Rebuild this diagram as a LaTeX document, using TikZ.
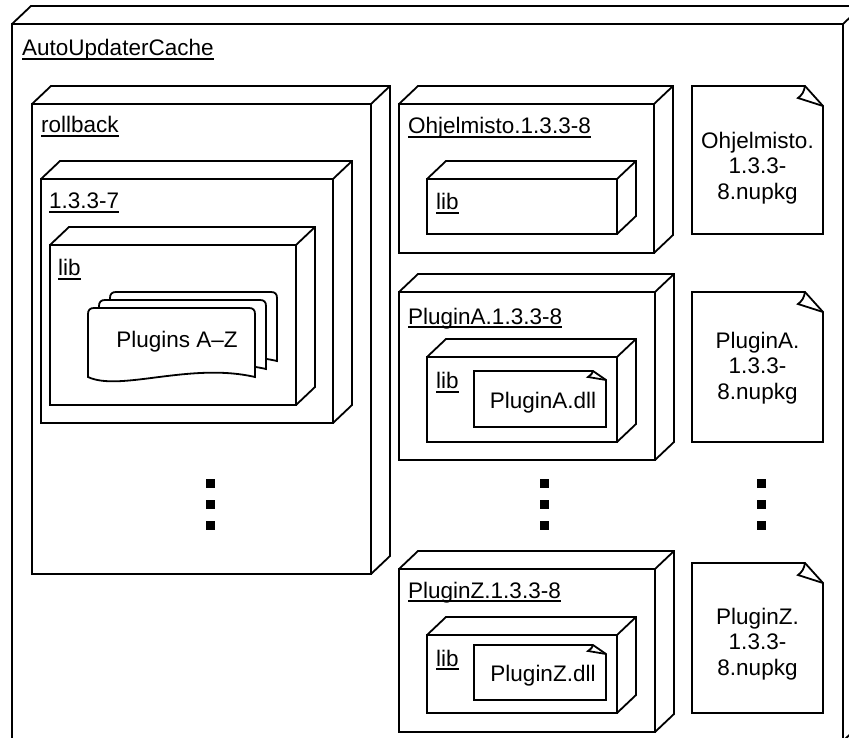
\documentclass[tikz,border=0pt]{standalone}
\usepackage{fontspec}
\setmainfont{Liberation Sans}
\usetikzlibrary{calc}
\newcommand{\ulabel}[1]{\setbox0\hbox{#1}\rlap{\vrule height -2.2pt depth 4.3pt width \wd0}\box0}
\tikzset{
  ln/.style={line width=1.8pt, line join=miter, draw=black},
  cubefront/.style={ln, draw, fill=white, rectangle, inner sep=0pt, outer sep=0pt},
  notebox/.style={rectangle, inner sep=0pt, outer sep=0pt},
  lbl/.style={anchor=base west, inner sep=0pt, font=\fontsize{22.5}{26}\selectfont},
  txt/.style={inner sep=0pt, align=center, font=\fontsize{22.5}{25.5}\selectfont},
  dotsq/.style={fill=black, draw=none, rectangle, minimum width=9pt, minimum height=9pt, inner sep=0pt}
}
% name, x1, y1, x2, y2
\newcommand{\cube}[5]{%
  \node[cubefront, minimum width={(#4-#2)*1pt}, minimum height={(#5-#3)*1pt}, anchor=north west] (#1) at (#2,#3) {};
  \draw[ln] (#1.north west) -- ++(19,-18) -- ($(#1.north east)+(19,-18)$) -- ($(#1.south east)+(19,-18)$) -- (#1.south east);
  \draw[ln] (#1.north east) -- ++(19,-18);
}
% name, x1, y1, x2, y2
\newcommand{\notenode}[5]{%
  \node[notebox, minimum width={(#4-#2)*1pt}, minimum height={(#5-#3)*1pt}, anchor=north west] (#1) at (#2,#3) {};
}
% name, fx, fy, cx, cy
\newcommand{\notefold}[5]{%
  \draw[ln, fill=white] (#1.north west) -- ($(#1.north east)+(-#2,0)$) -- ($(#1.north east)+(0,#3)$) -- (#1.south east) -- (#1.south west) -- cycle;
  \draw[ln] ($(#1.north east)+(-#2,0)$) .. controls +(-1,{0.3*#3}) and +(4,-3) .. ($(#1.north east)+(#4,#5)$) -- ($(#1.north east)+(0,#3)$);
}
\newcommand{\docshape}[2]{%
  \draw[ln, fill=white, shift={(#1,#2)}] (88,377) -- (88,314) .. controls (88,310) and (90,308) .. (94,308) -- (249,308) .. controls (253,308) and (255,310) .. (255,314) -- (255,377) .. controls (190,362) and (120,392) .. (88,377) -- cycle;
}
\begin{document}
\begin{tikzpicture}[x=1pt, y=-1pt]
\useasboundingbox (0,0) rectangle (849,738);
% outer cache box
\cube{cache}{12}{24}{843}{741}
\node[lbl] (lcache) at (22,56) {\ulabel{AutoUpdaterCache}};
% rollback
\cube{rollback}{32}{104}{371}{574}
\node[lbl] (lrollback) at (41,133) {\ulabel{rollback}};
\cube{vold}{41}{179}{333}{423}
\node[lbl] (lvold) at (49,208.5) {\ulabel{1.3.3-7}};
\cube{libold}{50}{245}{296}{405}
\node[lbl] (llibold) at (58,276) {\ulabel{lib}};
\docshape{22}{-16}
\docshape{11}{-8}
\docshape{0}{0}
\node[txt] (plugins) at (177,342) {Plugins A--Z};
% Ohjelmisto
\cube{ohj}{399}{104}{654}{253}
\node[lbl] (lohj) at (408,134) {\ulabel{Ohjelmisto.1.3.3-8}};
\cube{ohjlib}{427}{179}{617}{234}
\node[lbl] (lohjlib) at (436,210) {\ulabel{lib}};
% PluginA
\cube{pa}{399}{292}{655}{460}
\node[lbl] (lpa) at (408,324) {\ulabel{PluginA.1.3.3-8}};
\cube{palib}{427}{357}{617}{442}
\node[lbl] (lpalib) at (436,388.5) {\ulabel{lib}};
\notenode{padll}{474}{371}{606}{427}
\notefold{padll}{13}{9}{-18}{6}
\node[txt] (padlltxt) at (543,403) {PluginA.dll};
% PluginZ
\cube{pz}{399}{569}{655}{732}
\node[lbl] (lpz) at (408,598) {\ulabel{PluginZ.1.3.3-8}};
\cube{pzlib}{427}{635}{617}{713}
\node[lbl] (lpzlib) at (436,666) {\ulabel{lib}};
\notenode{pzdll}{474}{645}{606}{700}
\notefold{pzdll}{13}{9}{-18}{6}
\node[txt] (pzdlltxt) at (543,676) {PluginZ.dll};
% nupkg notes
\notenode{ohjnote}{692}{86}{823}{234}
\notefold{ohjnote}{18}{20}{-25}{12}
\node[txt] (ohjnotetxt) at (757.5,168) {Ohjelmisto.\\1.3.3-\\8.nupkg};
\notenode{panote}{692}{292}{823}{442}
\notefold{panote}{18}{20}{-25}{12}
\node[txt] (panotetxt) at (757.5,368) {PluginA.\\1.3.3-\\8.nupkg};
\notenode{pznote}{692}{563}{823}{713}
\notefold{pznote}{18}{20}{-25}{12}
\node[txt] (pznotetxt) at (757.5,644) {PluginZ.\\1.3.3-\\8.nupkg};
% ellipsis dots
\node[dotsq] (dl1) at (210,483) {};
\node[dotsq] (dl2) at (210,504) {};
\node[dotsq] (dl3) at (210,525) {};
\node[dotsq] (dm1) at (544,483) {};
\node[dotsq] (dm2) at (544,504) {};
\node[dotsq] (dm3) at (544,525) {};
\node[dotsq] (dr1) at (761,483) {};
\node[dotsq] (dr2) at (761,504) {};
\node[dotsq] (dr3) at (761,525) {};
\end{tikzpicture}
\end{document}
